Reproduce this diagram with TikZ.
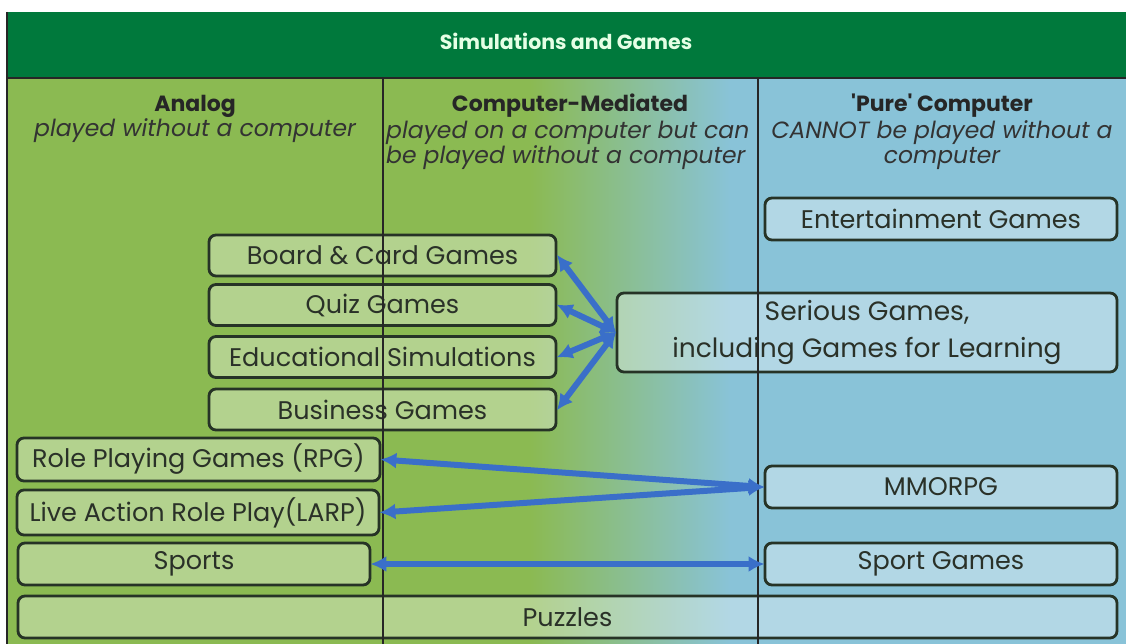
\documentclass[tikz,border=0pt]{standalone}
\usepackage{fontspec}
\setmainfont{Poppins}
\newfontfamily\popq{Poppins}
\usetikzlibrary{arrows.meta}
\definecolor{hdr}{HTML}{00793C}
\definecolor{lgreen}{HTML}{8BBA52}
\definecolor{lblue}{HTML}{89C3D8}
\definecolor{arr}{HTML}{3A6FC9}
\definecolor{txt}{HTML}{2A3128}
\definecolor{edge}{HTML}{263326}
\tikzset{
  box/.style={draw=edge, line width=2.8pt, rounded corners=7pt, fill=white, fill opacity=0.35, text opacity=1, text=txt, font=\fontsize{25.5}{30}\selectfont, inner sep=0pt},
  colhead/.style={font=\bfseries\fontsize{22}{25}\selectfont, text=black!85},
  colsub/.style={font=\itshape\fontsize{23.5}{25}\selectfont, text=black!80},
  link/.style={draw=arr, line width=6pt, {Latex[length=16pt,width=16pt]}-{Latex[length=16pt,width=16pt]}, shorten <=-1pt, shorten >=-1pt},
  sepline/.style={draw=black!85, line width=2.2pt}
}
\begin{document}
\begin{tikzpicture}[x=1pt,y=-1pt]
\useasboundingbox (0,0) rectangle (1126,644);
\fill[white] (0,0) rectangle (1126,644);
\fill[lgreen] (7,78) rectangle (530,644);
\shade[left color=lgreen,right color=lblue] (530,78) rectangle (731,644);
\fill[lblue] (730,78) rectangle (1126,644);
\fill[hdr] (7,12) rectangle (1126,78);
\draw[sepline] (7,12) -- (7,644);
\draw[sepline] (7,78) -- (1126,78);
% title
\node[font=\bfseries\fontsize{20.5}{24}\selectfont, text=white!90!green] (title) at (566,41) {Simulations and Games};
% column heads
\node[colhead] (analog) at (195,106) {Analog};
\node[colsub] (analogsub) at (195,131) {played without a computer};
\node[colhead] (cm) at (570,106) {Computer-Mediated};
\node[colsub, align=left, anchor=west, inner sep=0pt] (cmsub) at (386,145) {played on a computer but can\\be played without a computer};
\node[colhead, font=\popq\bfseries\fontsize{22}{25}\selectfont] (pure) at (942,106) {'Pure' Computer};
\node[colsub, align=center] (puresub) at (942,145) {CANNOT be played without a\\computer};
% boxes
\node[box, minimum width=352pt, minimum height=42pt] (ent) at (941,219) {Entertainment Games};
\node[box, minimum width=347pt, minimum height=41pt] (board) at (382.5,255.5) {Board \& Card Games};
\node[box, minimum width=347pt, minimum height=41pt] (quiz) at (382.5,305) {Quiz Games};
\node[box, minimum width=347pt, minimum height=41pt] (edu) at (382.5,357) {Educational Simulations};
\node[box, minimum width=347pt, minimum height=41pt] (bus) at (382.5,409.5) {Business Games};
\node[box, minimum width=500pt, minimum height=79pt, align=center, font=\fontsize{26.5}{37}\selectfont] (serious) at (867,332.5) {Serious Games,\\including Games for Learning};
\node[box, minimum width=363pt, minimum height=43pt] (rpg) at (198.5,459.5) {Role Playing Games (RPG)};
\node[box, minimum width=362pt, minimum height=45pt] (larp) at (198,512.5) {Live Action Role Play(LARP)};
\node[box, minimum width=352pt, minimum height=42pt] (sports) at (194,564) {Sports};
\node[box, minimum width=352pt, minimum height=42pt] (mmorpg) at (941,487) {MMORPG};
\node[box, minimum width=352pt, minimum height=42pt] (sportg) at (941,564) {Sport Games};
\node[box, minimum width=1099pt, minimum height=42pt] (puzzles) at (567.5,617) {Puzzles};
% column separators
\draw[sepline] (383,78) -- (383,644);
\draw[sepline] (758,78) -- (758,644);
% links
\draw[link] (serious.west) -- (board.east);
\draw[link] (serious.west) -- (quiz.east);
\draw[link] (serious.west) -- (edu.east);
\draw[link] (serious.west) -- (bus.east);
\draw[link] (mmorpg.west) -- (rpg.east);
\draw[link] (mmorpg.west) -- (larp.east);
\draw[link] (sportg.west) -- (sports.east);
\end{tikzpicture}
\end{document}
